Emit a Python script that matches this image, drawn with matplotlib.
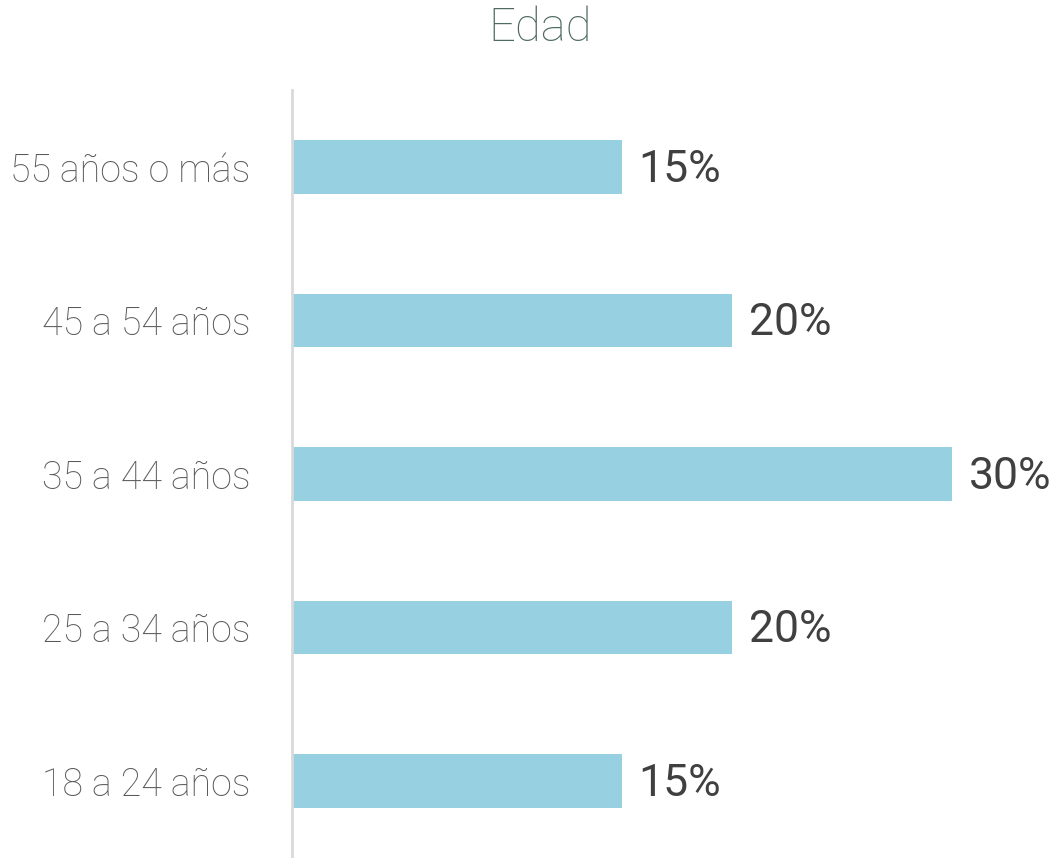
import matplotlib
matplotlib.use("Agg")
import matplotlib.pyplot as plt

categories = ["18 a 24 años", "25 a 34 años", "35 a 44 años", "45 a 54 años", "55 años o más"]
values = [15, 20, 30, 20, 15]
title = "Edad"

BAR_COLOR = "#96d0e1"
LABEL_COLOR = "#595959"
VALUE_COLOR = "#404040"
TITLE_COLOR = "#4f6b5e"
FONT = ["Roboto", "DejaVu Sans"]

W, H = 1059, 858
fig = plt.figure(figsize=(W / 100, H / 100), dpi=100)
ax = fig.add_axes([292 / W, 0, (W - 292) / W, (H - 90) / H])

y = range(len(categories))
ax.barh(y, values, height=0.35, color=BAR_COLOR, zorder=2)
ax.set_xlim(0, (W - 292) / 22)
ax.set_ylim(-0.5, len(categories) - 0.5)

for spine in ["top", "right", "bottom"]:
    ax.spines[spine].set_visible(False)
ax.spines["left"].set_color("#d9d9d9")
ax.spines["left"].set_linewidth(2)
ax.set_xticks([])
ax.set_yticks(list(y))
ax.set_yticklabels(categories, fontsize=27, color=LABEL_COLOR,
                   family=FONT, fontweight="light")
ax.tick_params(axis="y", length=0, pad=30)

for yi, v in zip(y, values):
    ax.annotate(f"{v}%", xy=(v, yi), xytext=(12, -2), textcoords="offset points",
                ha="left", va="center", fontsize=32, color=VALUE_COLOR,
                family=FONT, fontweight="normal")

fig.text(540 / W, 1 - 28 / H, title, ha="center", va="center", fontsize=34,
         color=TITLE_COLOR, family=FONT, fontweight="light")

fig.savefig("out.png", dpi=100)
